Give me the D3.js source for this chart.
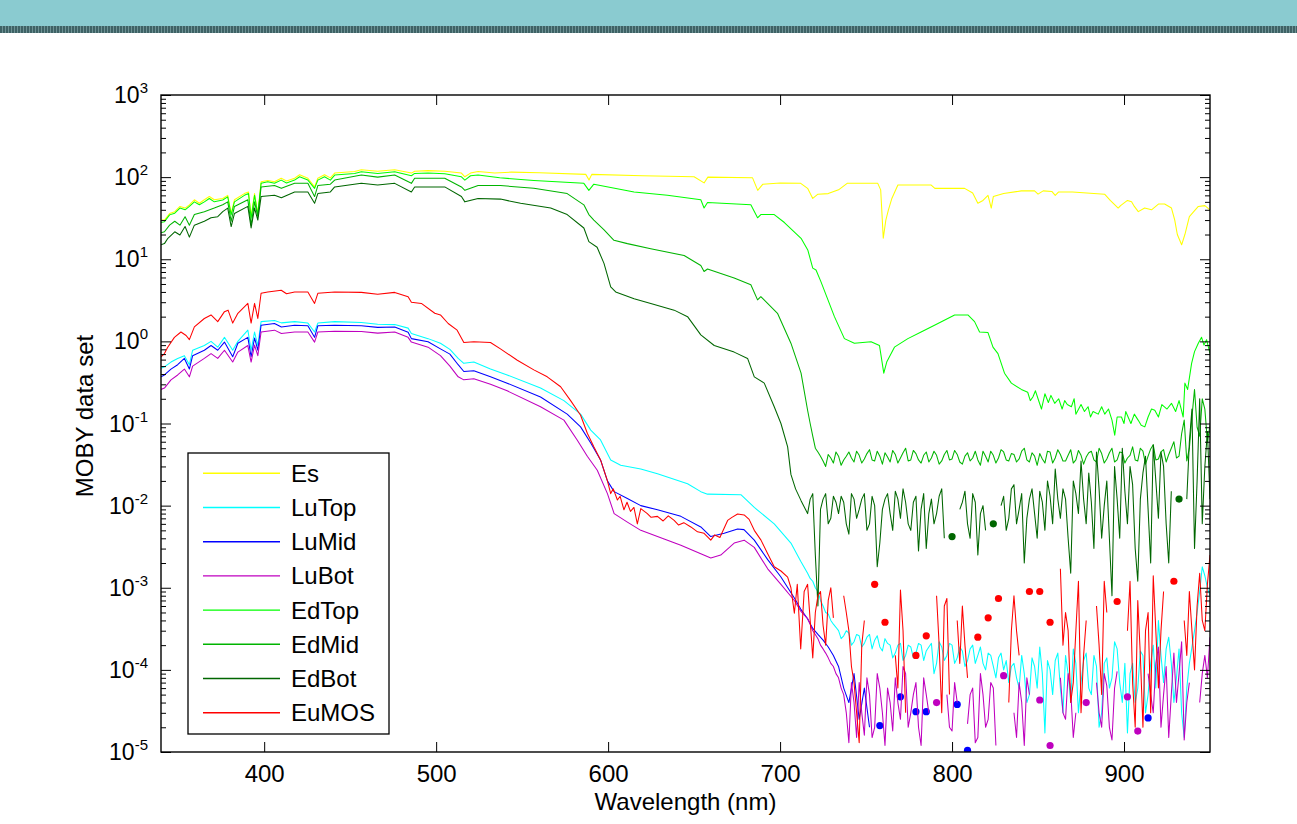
<!DOCTYPE html>
<html><head><meta charset="utf-8">
<script src="https://cdn.jsdelivr.net/npm/d3@7"></script>
<style>
body{margin:0;background:#fff}
svg{display:block}
text{font-family:"Liberation Sans",Arial,Helvetica,sans-serif;fill:#000}
</style>
</head><body>
<svg id="c" width="1297" height="824"></svg>
<script>
// ---------------- DATA ----------------
const seriesNames = ["Es","LuTop","LuMid","LuBot","EdTop","EdMid","EdBot","EuMOS"];
const seriesColors = ["#ffff00","#00ffff","#0000ff","#bf00bf","#00ff00","#00b400","#006600","#ff0000"];
const xTickValues = [400,500,600,700,800,900];
const yTickExponents = [-5,-4,-3,-2,-1,0,1,2,3];
const xDomain = [340,950];
const yDomain = [1e-5,1e3];
const xLabel = "Wavelength (nm)";
const yLabel = "MOBY data set";

// full-range series read as [wavelength, value]
const esData = [[340,30],[342,30],[345,36],[348,38],[351,44],[354,42],[356.5,46],[359.4,53],[362.3,48],[365.2,53],[368.1,58],[371,53],[375.9,55],[378.8,60],[380.8,36],[382.7,53],[388.5,63],[390.9,66],[392.4,33],[394.4,63],[396.3,36],[398.2,88],[402.1,91],[406,88],[409.9,97],[413,90],[417.7,97],[420.6,107],[425.4,97],[429.3,76],[431.2,97],[435.1,107],[438.5,98],[441,112],[452.6,117],[456.5,123],[466,118],[475.9,123],[485.6,112],[487.5,118],[495.3,120],[505,118],[514.7,112],[516.7,101],[520,112],[524.4,117],[534.1,112],[543.8,115],[560,113],[587,108],[588.9,92],[590.5,108],[620,104],[650,101],[655.8,85],[658,100],[684,98],[687,69],[690,82],[700,85],[712,84],[716,73],[719,55],[722,62],[728,63],[734,70],[739,84],[756.8,84],[758.5,70],[760,18],[761.5,30],[763,40],[765,55],[768.5,80],[787.9,80],[790,73],[807.3,73],[812,64],[815,48],[818,52],[820.9,60],[822.8,42],[824,58],[830,63],[840.3,68],[848,68],[850,62],[853,68],[858,67],[860,60],[862,66],[870,66],[888.7,62],[892,52],[896.6,42],[898,45],[902,52],[904.4,50],[906,44],[908.3,38],[912,42],[916,40],[920,47],[923.6,47],[927.6,42],[929.5,30],[931,20],[933.5,15],[935.4,20],[938,33],[943.2,44],[947,45],[950,40]];

const edTopData = [[340,28],[342,28.7],[345,34.7],[348,36.4],[351,42],[354,40],[356.5,44],[359.4,50],[362.3,46],[365.2,50],[368.1,55],[371,50],[375.9,52.6],[378.8,57.5],[380.8,34.7],[382.7,50],[388.5,60],[390.9,63],[392.4,31.6],[394.4,60],[396.3,34.7],[398.2,84],[402.1,88],[406,84],[409.9,92],[413,85],[417.7,92],[420.6,101],[425.4,92],[429.3,73],[431.2,92],[435.1,101],[438.5,92],[441,106],[452.6,111],[456.5,116],[466,111],[475.9,116],[485.6,104],[487.5,111],[495.3,112],[505,110],[514.7,101],[516.7,92],[520,104],[524.4,106],[537,98],[556.8,91],[585.9,84],[588.8,69],[591.7,82],[615.1,66],[634.5,60],[653.9,53],[655.8,42],[657.8,49],[683,46],[686.9,32],[688.8,35],[696.6,35],[702.5,28],[712.2,18],[716.1,13],[719,7.8],[720.9,7.4],[723.8,5.3],[731.6,2.0],[737.4,1.08],[743.2,0.95],[752.9,0.99],[757.8,0.89],[760.3,0.41],[762,0.56],[766.5,0.85],[774.3,1.08],[782,1.3],[791.8,1.65],[801.5,2.1],[809.2,2.1],[813.1,1.74],[816,1.3],[820.9,1.28],[823.8,0.85],[826.7,0.71],[830.5,0.41],[834.5,0.31],[840.3,0.26],[844,0.24],[845.5,0.19],[847,0.21],[848.5,0.25],[850,0.2],[852,0.15],[854,0.23],[856,0.18],[857.5,0.22],[859.7,0.176],[862,0.2],[864,0.15],[865.5,0.19],[867,0.17],[869.4,0.16],[871,0.2],[872,0.13],[875,0.17],[877,0.14],[879.1,0.16],[880.5,0.12],[882,0.14],[885,0.13],[887,0.16],[888.8,0.13],[891,0.15],[893,0.11],[894.6,0.072],[896,0.12],[898.5,0.12],[900,0.1],[901,0.14],[904,0.1],[906,0.13],[908.2,0.11],[910,0.095],[912.1,0.091],[914,0.12],[916,0.15],[917.9,0.145],[920,0.12],[922,0.17],[925,0.15],[927.6,0.176],[930,0.14],[932,0.19],[934.4,0.12],[935.4,0.31],[937,0.26],[939.3,0.54],[941,0.75],[943.2,0.95],[945.1,1.12],[946.5,0.9],[948,1.05],[950,0.71]];

// smooth parts (340-714 nm) read as [wavelength, value]
const luTopData = [[340,0.47],[342,0.49],[345.8,0.56],[349.7,0.62],[353.6,0.67],[356.5,0.52],[358.4,0.78],[365.2,0.89],[369.1,1.0],[373,0.85],[376.9,1.12],[381.7,0.78],[384.7,1.0],[390.5,1.37],[392.4,0.78],[394.4,1.3],[396.3,0.89],[398.2,1.74],[406,1.8],[410,1.68],[417.7,1.74],[425.4,1.67],[429.3,1.3],[431.2,1.67],[441,1.74],[456.5,1.7],[466,1.62],[475.9,1.6],[483.7,1.45],[485.6,1.25],[495.3,1.08],[502.5,0.95],[508,0.8],[512.8,0.62],[516.1,0.54],[521.9,0.56],[531.6,0.46],[541.3,0.39],[560.7,0.27],[574.3,0.19],[584,0.13],[589.9,0.083],[595.6,0.063],[601.5,0.036],[607.3,0.031],[619,0.028],[628.7,0.0245],[646.2,0.0185],[653.9,0.0148],[657.8,0.0138],[677.2,0.0136],[685,0.0095],[696.6,0.006],[706.3,0.0035],[712,0.0021]];
const luMidData = [[340,0.37],[342,0.39],[345.8,0.46],[349.7,0.52],[353.6,0.62],[356.5,0.46],[358.4,0.67],[365.2,0.78],[369.1,0.89],[373,0.78],[376.9,0.98],[381.7,0.65],[384.7,0.95],[390.5,1.12],[392.4,0.65],[394.4,1.1],[396.3,0.78],[398.2,1.57],[406,1.65],[410,1.5],[417.7,1.57],[425.4,1.55],[429.3,1.12],[431.2,1.55],[441,1.57],[456.5,1.55],[466,1.48],[475.9,1.5],[483.7,1.29],[485.6,1.08],[495.3,0.99],[502.5,0.81],[508,0.7],[512.8,0.52],[516.1,0.43],[521.9,0.44],[531.6,0.37],[541.3,0.31],[560.7,0.21],[576.2,0.13],[584,0.091],[589.9,0.058],[595.6,0.036],[599.6,0.02],[603.5,0.0148],[611.2,0.0122],[619,0.01],[628.7,0.0089],[642.3,0.0074],[653.9,0.0055],[659.7,0.0042],[667.5,0.0046],[675.3,0.0052],[679,0.0051],[685,0.0038],[692.8,0.0022],[700.5,0.00135],[708.3,0.00075],[712,0.00055]];
const luBotData = [[340,0.26],[342,0.27],[345.8,0.34],[349.7,0.39],[353.6,0.46],[356.5,0.37],[358.4,0.5],[365.2,0.62],[369.1,0.71],[373,0.62],[376.9,0.78],[381.7,0.56],[384.7,0.74],[390.5,0.89],[392.4,0.56],[394.4,0.9],[396.3,0.67],[398.2,1.3],[406,1.37],[410,1.25],[417.7,1.3],[425.4,1.3],[429.3,0.98],[431.2,1.3],[441,1.33],[456.5,1.32],[466,1.26],[475.9,1.3],[483.7,1.12],[485.6,0.98],[495.3,0.85],[502.5,0.67],[508,0.5],[512.8,0.37],[516.1,0.34],[521.9,0.35],[531.6,0.3],[541.3,0.25],[560.7,0.16],[574.3,0.11],[582,0.063],[587.9,0.04],[593.7,0.027],[599.6,0.014],[603.5,0.008],[611.2,0.0063],[619,0.005],[628.7,0.0042],[642.3,0.0033],[653.9,0.0026],[659.7,0.0023],[665.5,0.0025],[673.3,0.0035],[679.1,0.0038],[685,0.0031],[692.8,0.0017],[700.5,0.0011],[708.3,0.0007],[712,0.00052]];
const edMidData = [[340,21],[342,21.6],[345,26],[348,29],[351,26],[354,33],[356.5,26],[359.4,35],[365.2,38],[371,42],[375.9,46],[378.8,50],[380.8,29],[382.7,44],[390.5,53],[392.4,26],[394.4,50],[396.3,33],[398.2,76],[406,79],[410,73],[417.7,84],[425.4,84],[429.3,58],[431.2,79],[438.5,82],[441,92],[456.5,106],[466,100],[475.9,106],[485.6,84],[487.5,97],[505,97],[514.7,76],[516.7,69],[524.4,79],[537.4,79],[556.8,73],[576.2,63],[585.9,46],[588.8,35],[591.7,30],[597.5,23],[603.4,17],[611.2,15.5],[624.8,13.4],[644.2,11.1],[653.9,8.4],[655.8,7.1],[657.8,7.6],[673.3,5.9],[683,4.9],[686.9,3.2],[688.8,3.5],[698.5,2.2],[706.3,0.95],[712.2,0.41]];
const edBotData = [[340,15],[342,15.5],[344,18],[348,21.6],[351,19.7],[354,25],[356.5,18.6],[359.4,26],[365.2,29],[369.1,32],[373,33],[375.9,38],[378.8,42],[380.8,25],[382.7,36],[390.5,44],[392.4,24],[394.4,42],[396.3,30],[398.2,58],[406,60],[410,56],[417.7,66],[425.4,66],[429.3,48],[431.2,63],[438.5,66],[441,76],[456.5,84],[466,80],[475.9,84],[485.6,66],[487.5,76],[505,76],[514.7,58],[516.7,50],[524.4,55],[537.4,54],[549.1,48],[566.6,42],[576.2,35],[585.9,24],[588.8,16.4],[593.6,14],[597.6,8.9],[601.5,4.6],[604.4,4.0],[615.1,3.3],[624.8,2.9],[638.4,2.4],[646.2,2.0],[653.9,1.2],[661.7,0.89],[673.3,0.74],[681.1,0.62],[685,0.37],[690.8,0.31],[696.6,0.16],[700.5,0.1],[704.4,0.052],[706.3,0.024],[709,0.016],[712.2,0.0115]];
const euMosData = [[340,0.65],[342,0.71],[343.9,0.85],[347.8,1.12],[351.6,1.3],[354.6,1.18],[356.5,1.05],[359.4,1.5],[365.2,1.9],[369.1,2.1],[373,1.74],[376.9,2.3],[379,2.4],[381.7,1.67],[384.7,2.2],[390.5,2.9],[392.4,1.67],[394.4,2.9],[396.3,1.9],[398.2,3.85],[402.1,4.0],[409.9,4.2],[413,3.8],[417.7,4.0],[425.4,4.0],[429.3,2.9],[431.2,3.85],[441,4.0],[456.5,3.95],[466,3.75],[475.9,3.95],[483.7,3.5],[485.6,3.0],[491.4,2.9],[499.2,2.2],[502.5,2.1],[507,1.65],[512.2,1.37],[516.1,0.97],[521.9,0.99],[531.6,0.97],[537.4,0.81],[547.2,0.59],[556.8,0.45],[564.6,0.37],[572.4,0.28],[578.2,0.19],[584,0.126],[587.9,0.076],[591.7,0.052],[595.6,0.036],[599.6,0.02],[601.5,0.014],[603,0.016],[605.4,0.0117],[607,0.013],[609.2,0.0089],[611,0.011],[613,0.0085],[615,0.0095],[617,0.006],[619,0.0092],[622.8,0.008],[625,0.0072],[628.7,0.0074],[632,0.0065],[635,0.0075],[638.4,0.0066],[641,0.0058],[644,0.0062],[648.1,0.0055],[652,0.0048],[655.8,0.0046],[659.7,0.0038],[662,0.0044],[665,0.0041],[669.5,0.0066],[672,0.0072],[675.3,0.0079],[679.1,0.0077],[682,0.0068],[685,0.005],[688.9,0.0038],[692.8,0.0026],[696.6,0.0018],[700.5,0.0016],[704.4,0.00135],[706.3,0.001],[708.3,0.00049],[710,0.0011],[712,0.00018],[714,0.0009]];

// noisy tails: main grid and half-step grid (null = no valid value)
const tailNm = [716,719,722,725,728,731,734,737,740,743,
 746,749,752,755,758,761,764,767,770,773,
 776,779,782,785,788,791,794,797,800,803,
 806,809,812,815,818,821,824,827,830,833,
 836,839,842,845,848,851,854,857,860,863,
 866,869,872,875,878,881,884,887,890,893,
 896,899,902,905,908,911,914,917,920,923,
 926,929,932,935,938,941,944,947,950];
const midNm = [717.5,720.5,723.5,726.5,729.5,732.5,735.5,738.5,741.5,744.5,
 747.5,750.5,753.5,756.5,759.5,762.5,765.5,768.5,771.5,774.5,
 777.5,780.5,783.5,786.5,789.5,792.5,795.5,798.5,801.5,804.5,
 807.5,810.5,813.5,816.5,819.5,822.5,825.5,828.5,831.5,834.5,
 837.5,840.5,843.5,846.5,849.5,852.5,855.5,858.5,861.5,864.5,
 867.5,870.5,873.5,876.5,879.5,882.5,885.5,888.5,891.5,894.5,
 897.5,900.5,903.5,906.5,909.5,912.5,915.5,918.5,921.5,924.5,
 927.5,930.5,933.5,936.5,939.5,942.5,945.5,948.5];

const edMidTail = [0.145,0.07,0.045,0.035,0.042,0.033,0.04,0.036,0.045,0.034,
 0.041,0.037,0.048,0.035,0.04,0.044,0.034,0.042,0.038,0.05,
 0.036,0.043,0.033,0.045,0.038,0.041,0.035,0.047,0.037,0.042,
 0.032,0.044,0.038,0.036,0.046,0.034,0.041,0.038,0.045,0.035,
 0.042,0.037,0.05,0.034,0.04,0.043,0.033,0.045,0.038,0.042,
 0.035,0.048,0.036,0.041,0.039,0.046,0.034,0.043,0.037,0.05,
 0.036,0.044,0.038,0.052,0.035,0.046,0.04,0.055,0.037,0.048,
 0.042,0.06,0.04,0.11,0.05,0.26,0.07,0.15,0.095];
const edMidMid = [0.1,0.05,0.04,0.03,0.038,0.045,0.031,0.04,0.038,0.046,
 0.033,0.043,0.036,0.046,0.032,0.039,0.047,0.033,0.044,0.035,
 0.047,0.036,0.041,0.034,0.046,0.032,0.042,0.036,0.047,0.034,
 0.04,0.035,0.046,0.031,0.04,0.046,0.033,0.048,0.036,0.043,
 0.034,0.046,0.036,0.044,0.031,0.037,0.046,0.033,0.048,0.035,
 0.041,0.033,0.047,0.032,0.044,0.036,0.05,0.033,0.044,0.034,
 0.045,0.033,0.041,0.036,0.05,0.032,0.049,0.036,0.045,0.034,
 0.05,0.038,0.075,0.035,0.12,0.09,0.2,0.06];

const edBotTail = [0.008,0.014,0.0006,0.012,0.006,0.013,0.008,0.011,0.0045,0.012,
 0.009,0.014,0.006,0.01,0.0035,0.012,0.008,0.015,0.007,0.011,
 0.005,0.013,0.009,0.003,0.012,0.008,0.016,null,0.0042,null,
 0.011,0.006,0.014,0.0025,0.01,null,0.006,null,0.013,0.007,
 0.018,0.009,0.002,0.012,0.008,0.015,0.005,0.013,0.028,0.007,
 0.012,0.0015,0.014,0.035,0.006,0.011,0.045,0.004,0.02,0.0008,
 0.012,0.05,0.006,0.018,0.0012,0.025,0.009,0.055,0.007,0.03,
 0.002,null,0.012,null,0.06,0.003,0.2,0.03,0.012];
const edBotMid = [0.012,0.0025,0.009,0.014,0.007,0.011,0.013,0.006,0.014,0.007,
 0.012,0.005,0.013,0.0018,0.009,0.014,0.005,0.012,0.016,0.006,
 0.011,0.0028,0.014,0.008,0.006,0.013,0.004,null,null,0.009,
 0.015,0.004,0.011,0.008,0.005,null,null,0.01,0.005,0.016,
 0.006,0.014,0.007,0.016,0.004,0.011,0.02,0.006,0.012,0.016,
 0.004,0.02,0.008,0.012,0.025,0.003,0.016,0.01,0.004,0.03,
 0.004,0.015,0.03,0.003,0.012,0.04,0.002,0.02,0.045,0.006,
 0.015,null,null,0.012,0.15,0.02,0.006,0.08];

const luTopTail = [0.0015,0.0012,0.0009,0.0006,0.00048,0.00036,0.0003,0.00026,0.00028,0.00022,
 0.00026,0.00021,0.00027,0.00023,0.00019,0.00024,0.0002,0.00016,0.00021,0.00015,
 0.00019,0.00016,0.0002,0.00017,0.00021,0.00012,0.00019,0.00015,0.0002,0.00014,
 0.00017,0.00013,0.0002,0.00015,0.00012,0.00016,0.00011,0.00014,0.0001,0.00007,
 0.00012,0.00006,0.00009,0.00005,0.00011,0.00019,0.000017,0.0001,0.00013,0.00006,
 0.00015,0.00004,0.00012,0.00007,0.00016,0.00005,0.00011,0.00003,0.00014,0.00008,
 0.00018,0.00004,0.000017,0.00012,0.00006,0.00015,0.00005,0.0002,0.0004,0.00007,
 0.00025,0.00004,0.00018,0.000015,0.00012,0.0003,0.0009,0.0014,0.0008];
const luTopMid = [0.0013,0.001,0.0007,0.0005,0.0004,0.00033,0.00024,0.0003,0.0002,0.00027,
 0.00019,0.00025,0.00018,0.00026,0.00017,0.00021,0.00014,0.0002,0.00013,0.0002,
 0.00014,0.00021,0.00013,0.00019,0.00009,0.00022,0.00013,0.00021,0.00012,0.00019,
 0.00011,0.00018,0.00012,0.00019,0.0001,0.00015,0.00008,0.00016,0.00013,0.00011,
 0.00008,0.00015,0.00004,0.00014,0.00006,0.00009,0.00013,0.00005,0.00016,0.00003,
 0.00009,0.00018,0.00003,0.00013,0.00006,0.00015,0.00002,0.00012,0.00006,0.00022,
 0.00007,0.00012,0.00009,0.00004,0.00017,0.00003,0.00012,0.00006,0.00015,0.00018,
 0.00012,0.00008,0.00003,0.00006,0.00019,0.0005,0.0018,0.001];

const luMidTail = [0.00042,0.00032,0.00027,0.00023,0.00019,0.00015,0.00011,0.00006,0.00004,0.00009,
 0.000025,0.00006,0.00002,null,0.000021,null,null,null,0.000047,null,
 null,0.000031,null,0.000031,null,null,null,null,null,0.000038,
 null,0.0000105,null,null,null,null,null,null,null,null,
 null,null,null,null,null,null,null,null,null,null,
 null,null,null,null,null,null,null,null,null,null,
 null,null,null,null,null,null,0.000026,null,null,null,
 null,null,null,null,null,null,null,null,null];

const luBotTail = [0.00042,0.0003,0.00024,0.00018,0.00014,0.00011,0.00008,0.00005,0.000013,0.00004,
 0.00007,0.000016,0.00005,0.00002,0.00006,0.000012,0.00004,0.00008,0.000025,0.00009,
 0.00003,0.00007,0.000012,0.00005,null,0.00004,null,0.00005,0.000018,0.00004,
 null,0.000022,0.00006,0.000015,0.00005,0.000025,0.00006,null,0.000085,null,
 0.00003,0.00007,0.000012,0.00005,null,0.000043,null,0.000012,null,0.00008,
 0.000025,0.000056,0.00003,null,0.00004,null,0.00007,0.00002,0.000064,0.000014,
 0.000096,null,0.000047,null,0.000018,null,0.00009,0.00003,0.00019,0.00005,
 0.000015,0.00016,0.00009,0.000014,0.00007,null,0.00004,0.00015,0.00025];
const luBotMid = [0.00036,0.00027,0.0002,0.00016,0.00012,0.00009,0.00006,0.00003,0.00007,0.000015,
 0.00003,0.00008,0.000015,0.00009,0.00003,0.00006,0.000018,0.00004,0.00011,0.00002,
 0.00005,0.00002,0.00008,0.00003,null,null,null,0.00002,0.00007,null,
 null,0.00005,0.000013,0.00009,0.00002,0.00007,0.000012,null,null,null,
 0.000015,0.00004,0.00008,null,null,null,null,null,null,0.00003,
 0.00009,0.000015,null,null,null,null,0.00003,0.00009,0.00002,0.00006,
 null,null,null,null,null,null,0.00005,0.00012,0.00002,0.00011,
 0.00005,0.00004,0.00022,0.00004,null,null,0.00009,0.00008];

const euMosTail = [0.0011,0.00014,0.0008,0.00035,0.0007,0.00043,null,0.0008,0.0003,0.00007,
 0.000013,0.0004,null,0.0011,null,0.00038,null,0.00015,0.00094,0.00003,
 null,0.00015,null,0.00026,null,0.0008,0.00003,0.00074,null,0.0004,
 0.0006,0.00008,null,0.00025,null,0.00043,null,0.00074,null,0.00004,
 0.0008,0.00015,null,0.0009,null,0.0009,null,0.00038,null,0.0017,
 0.0005,0.00004,0.0003,0.00003,0.0004,null,0.0006,0.00005,0.0005,null,
 0.00068,null,0.0003,0.00007,0.0007,0.00002,0.0005,0.0014,0.00006,0.0009,
 null,0.0012,null,0.0004,0.0009,0.0001,0.0015,0.0003,0.0025];
const euMosMid = [0.0004,0.0005,0.0009,0.0002,0.001,null,null,0.0005,0.00011,0.00003,
 0.0002,null,null,null,null,null,null,0.00006,0.0003,null,
 null,null,null,null,null,0.0002,0.0006,0.00005,null,0.00012,
 0.0002,null,null,null,null,null,null,null,null,0.0003,
 0.0003,null,null,null,null,null,null,null,null,0.0002,
 0.0003,0.00007,0.0012,0.00015,null,null,0.0002,0.0012,null,null,
 null,null,0.0012,0.00002,0.00015,0.0003,0.00003,0.0003,0.0003,null,
 null,null,null,0.00015,0.0003,0.0006,0.0004,0.0011];

// ---------------- BUILD ----------------
function withTail(base, tail, mid){
  let t = tailNm.slice(0, tail.length).map((n,i)=>[n, tail[i]]);
  if (mid) t = t.concat(midNm.slice(0, mid.length).map((n,i)=>[n, mid[i]]));
  t.sort((a,b)=>a[0]-b[0]);
  return base.concat(t);
}
const seriesData = [
  esData,
  withTail(luTopData, luTopTail, luTopMid),
  withTail(luMidData, luMidTail),
  withTail(luBotData, luBotTail, luBotMid),
  edTopData,
  withTail(edMidData, edMidTail, edMidMid),
  withTail(edBotData, edBotTail, edBotMid),
  withTail(euMosData, euMosTail, euMosMid)
];

const W = 1297, H = 824;
const P = {left:161, right:1210, top:95, bottom:752};
const svg = d3.select("#c");
const x = d3.scaleLinear().domain(xDomain).range([P.left, P.right]);
const y = d3.scaleLog().domain(yDomain).range([P.bottom, P.top]);

// banner
const defs = svg.append("defs");
const pat = defs.append("pattern").attr("id","stripe").attr("width",3).attr("height",7).attr("patternUnits","userSpaceOnUse");
pat.append("rect").attr("width",3).attr("height",7).attr("fill","#3e6265");
pat.append("rect").attr("x",2).attr("width",1).attr("height",7).attr("fill","#6d9194");
svg.append("rect").attr("x",0).attr("y",0).attr("width",W).attr("height",26).attr("fill","#8acbd0");
svg.append("rect").attr("x",0).attr("y",26).attr("width",W).attr("height",7).attr("fill","url(#stripe)");

defs.append("clipPath").attr("id","plotclip").append("rect")
  .attr("x",P.left).attr("y",P.top).attr("width",P.right-P.left).attr("height",P.bottom-P.top);

// lines
const def = d => d && d[1] != null && d[1] > 0;
const line = d3.line().defined(def).x(d=>x(d[0])).y(d=>y(d[1]));
const gLines = svg.append("g").attr("clip-path","url(#plotclip)");
seriesData.forEach((pts,k)=>{
  gLines.append("path").datum(pts).attr("d",line)
    .attr("fill","none").attr("stroke",seriesColors[k]).attr("stroke-width",1.05)
    .attr("stroke-linejoin","round");
  const iso = pts.filter((p,i)=> i>0 && def(p) && !def(pts[i-1]) && !def(pts[i+1]));
  gLines.selectAll(null).data(iso).enter().append("circle")
    .attr("cx",d=>x(d[0])).attr("cy",d=>y(d[1])).attr("r",3.6)
    .attr("fill",seriesColors[k]);
});

// axes
const allLogTicks = y.ticks();
const majorTicks = yTickExponents.map(e=>Math.pow(10,e));
const minorTicks = allLogTicks.filter(v=>{const l=Math.log10(v);return Math.abs(l-Math.round(l))>1e-6;});

function styleAxis(g){ g.select(".domain").remove(); g.selectAll("line").attr("stroke","#000").attr("stroke-width",1); }

svg.append("g").attr("transform",`translate(0,${P.bottom})`)
  .call(d3.axisBottom(x).tickValues(xTickValues).tickSizeInner(-10).tickSizeOuter(0).tickPadding(13))
  .attr("font-size",24).attr("font-family","Liberation Sans, Arial, sans-serif")
  .call(styleAxis).selectAll("text").attr("fill","#000");
svg.append("g").attr("transform",`translate(0,${P.top})`)
  .call(d3.axisTop(x).tickValues(xTickValues).tickSizeInner(-10).tickSizeOuter(0).tickFormat(""))
  .call(styleAxis);
[["L",P.left],["R",P.right]].forEach(([side,px])=>{
  const mk = side==="L" ? d3.axisLeft : d3.axisRight;
  svg.append("g").attr("transform",`translate(${px},0)`)
    .call(mk(y).tickValues(majorTicks).tickSizeInner(-10).tickSizeOuter(0).tickFormat(""))
    .call(styleAxis);
  svg.append("g").attr("transform",`translate(${px},0)`)
    .call(mk(y).tickValues(minorTicks).tickSizeInner(-5).tickSizeOuter(0).tickFormat(""))
    .call(styleAxis);
});

// y tick labels 10^n
const yl = svg.append("g");
yTickExponents.forEach(e=>{
  const t = yl.append("text").attr("x",148).attr("y",y(Math.pow(10,e))+8)
    .attr("text-anchor","end").attr("font-size",23);
  t.append("tspan").text("10");
  t.append("tspan").attr("dy",-10).attr("font-size",15).text(String(e));
});

// box
svg.append("rect").attr("x",P.left).attr("y",P.top).attr("width",P.right-P.left).attr("height",P.bottom-P.top)
  .attr("fill","none").attr("stroke","#000").attr("stroke-width",1.4);

// axis labels
svg.append("text").attr("x",(P.left+P.right)/2).attr("y",810).attr("text-anchor","middle")
  .attr("font-size",24).text(xLabel);
svg.append("text").attr("transform","translate(93,416) rotate(-90)").attr("text-anchor","middle")
  .attr("font-size",24).text(yLabel);

// legend
const lg = svg.append("g");
lg.append("rect").attr("x",188).attr("y",453).attr("width",201).attr("height",281)
  .attr("fill","#fff").attr("stroke","#000").attr("stroke-width",1.3);
seriesNames.forEach((n,i)=>{
  const cy = 473.3 + i*34.2;
  lg.append("line").attr("x1",203).attr("x2",280).attr("y1",cy).attr("y2",cy)
    .attr("stroke",seriesColors[i]).attr("stroke-width",1.4);
  lg.append("text").attr("x",291).attr("y",cy+8.5).attr("font-size",24).text(n);
});
</script>
</body></html>
